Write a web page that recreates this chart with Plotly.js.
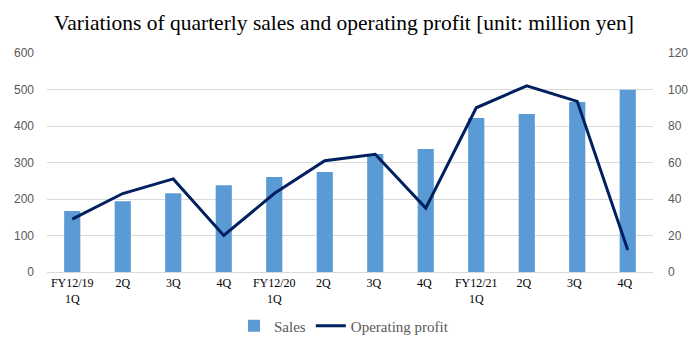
<!DOCTYPE html>
<html><head><meta charset="utf-8">
<script src="https://cdn.plot.ly/plotly-3.0.1.min.js"></script>
<style>body{margin:0;background:#fff}#c{width:688px;height:346px}</style>
</head><body><div id="c"></div>
<script>
const categories = ["FY12/19<br>1Q","2Q","3Q","4Q","FY12/20<br>1Q","2Q ","3Q ","4Q ","FY12/21<br>1Q","2Q  ","3Q  ","4Q  "];
const sales = [167, 194, 216, 238, 260, 274, 323, 337, 422, 433, 466, 499];
const operatingProfit = [29, 43, 51, 20, 43, 61, 64.5, 35, 90, 102, 93.5, 12];
const leftTicks = [0, 100, 200, 300, 400, 500, 600];
const rightTicks = [0, 20, 40, 60, 80, 100, 120];

const serif = 'Times New Roman, Liberation Serif, Times, serif';
const sans = 'Arial, Liberation Sans, sans-serif';
const data = [
  {type:'bar', name:'Sales', x:categories, y:sales, marker:{color:'#5B9BD5'}, yaxis:'y'},
  {type:'scatter', mode:'lines', name:'Operating profit', x:categories, y:operatingProfit,
   line:{color:'#002060', width:3}, yaxis:'y2'}
];
const layout = {
  width:688, height:346,
  margin:{l:47, r:35, t:53, b:74},
  paper_bgcolor:'#fff', plot_bgcolor:'#fff',
  font:{family:serif},
  title:{text:'Variations of quarterly sales and operating profit [unit: million yen]',
    font:{family:serif, size:21.5, color:'#000'},
    x:0.5, xanchor:'center', y:0.935, yanchor:'middle'},
  bargap:0.68,
  showlegend:true,
  legend:{orientation:'h', x:0.5, xanchor:'center', xref:'container', yref:'container', y:0.058, yanchor:'middle',
    font:{family:serif, size:15, color:'#595959'}},
  xaxis:{type:'category', tickfont:{family:serif, size:12, color:'#000'},
    showgrid:false, showline:true, linecolor:'#d9d9d9', linewidth:1, ticks:'', automargin:false},
  yaxis:{range:[0,600], tickvals:leftTicks, showgrid:true, gridcolor:'#d9d9d9', gridwidth:1,
    zeroline:false, ticks:'', ticklabelstandoff:12,
    tickfont:{family:sans, size:12, color:'#595959'}, automargin:false},
  yaxis2:{range:[0,120], tickvals:rightTicks, overlaying:'y', side:'right', showgrid:false,
    zeroline:false, ticks:'', ticklabelstandoff:14,
    tickfont:{family:sans, size:12, color:'#595959'}, automargin:false}
};
Plotly.newPlot('c', data, layout, {displayModeBar:false, staticPlot:true});
</script></body></html>
